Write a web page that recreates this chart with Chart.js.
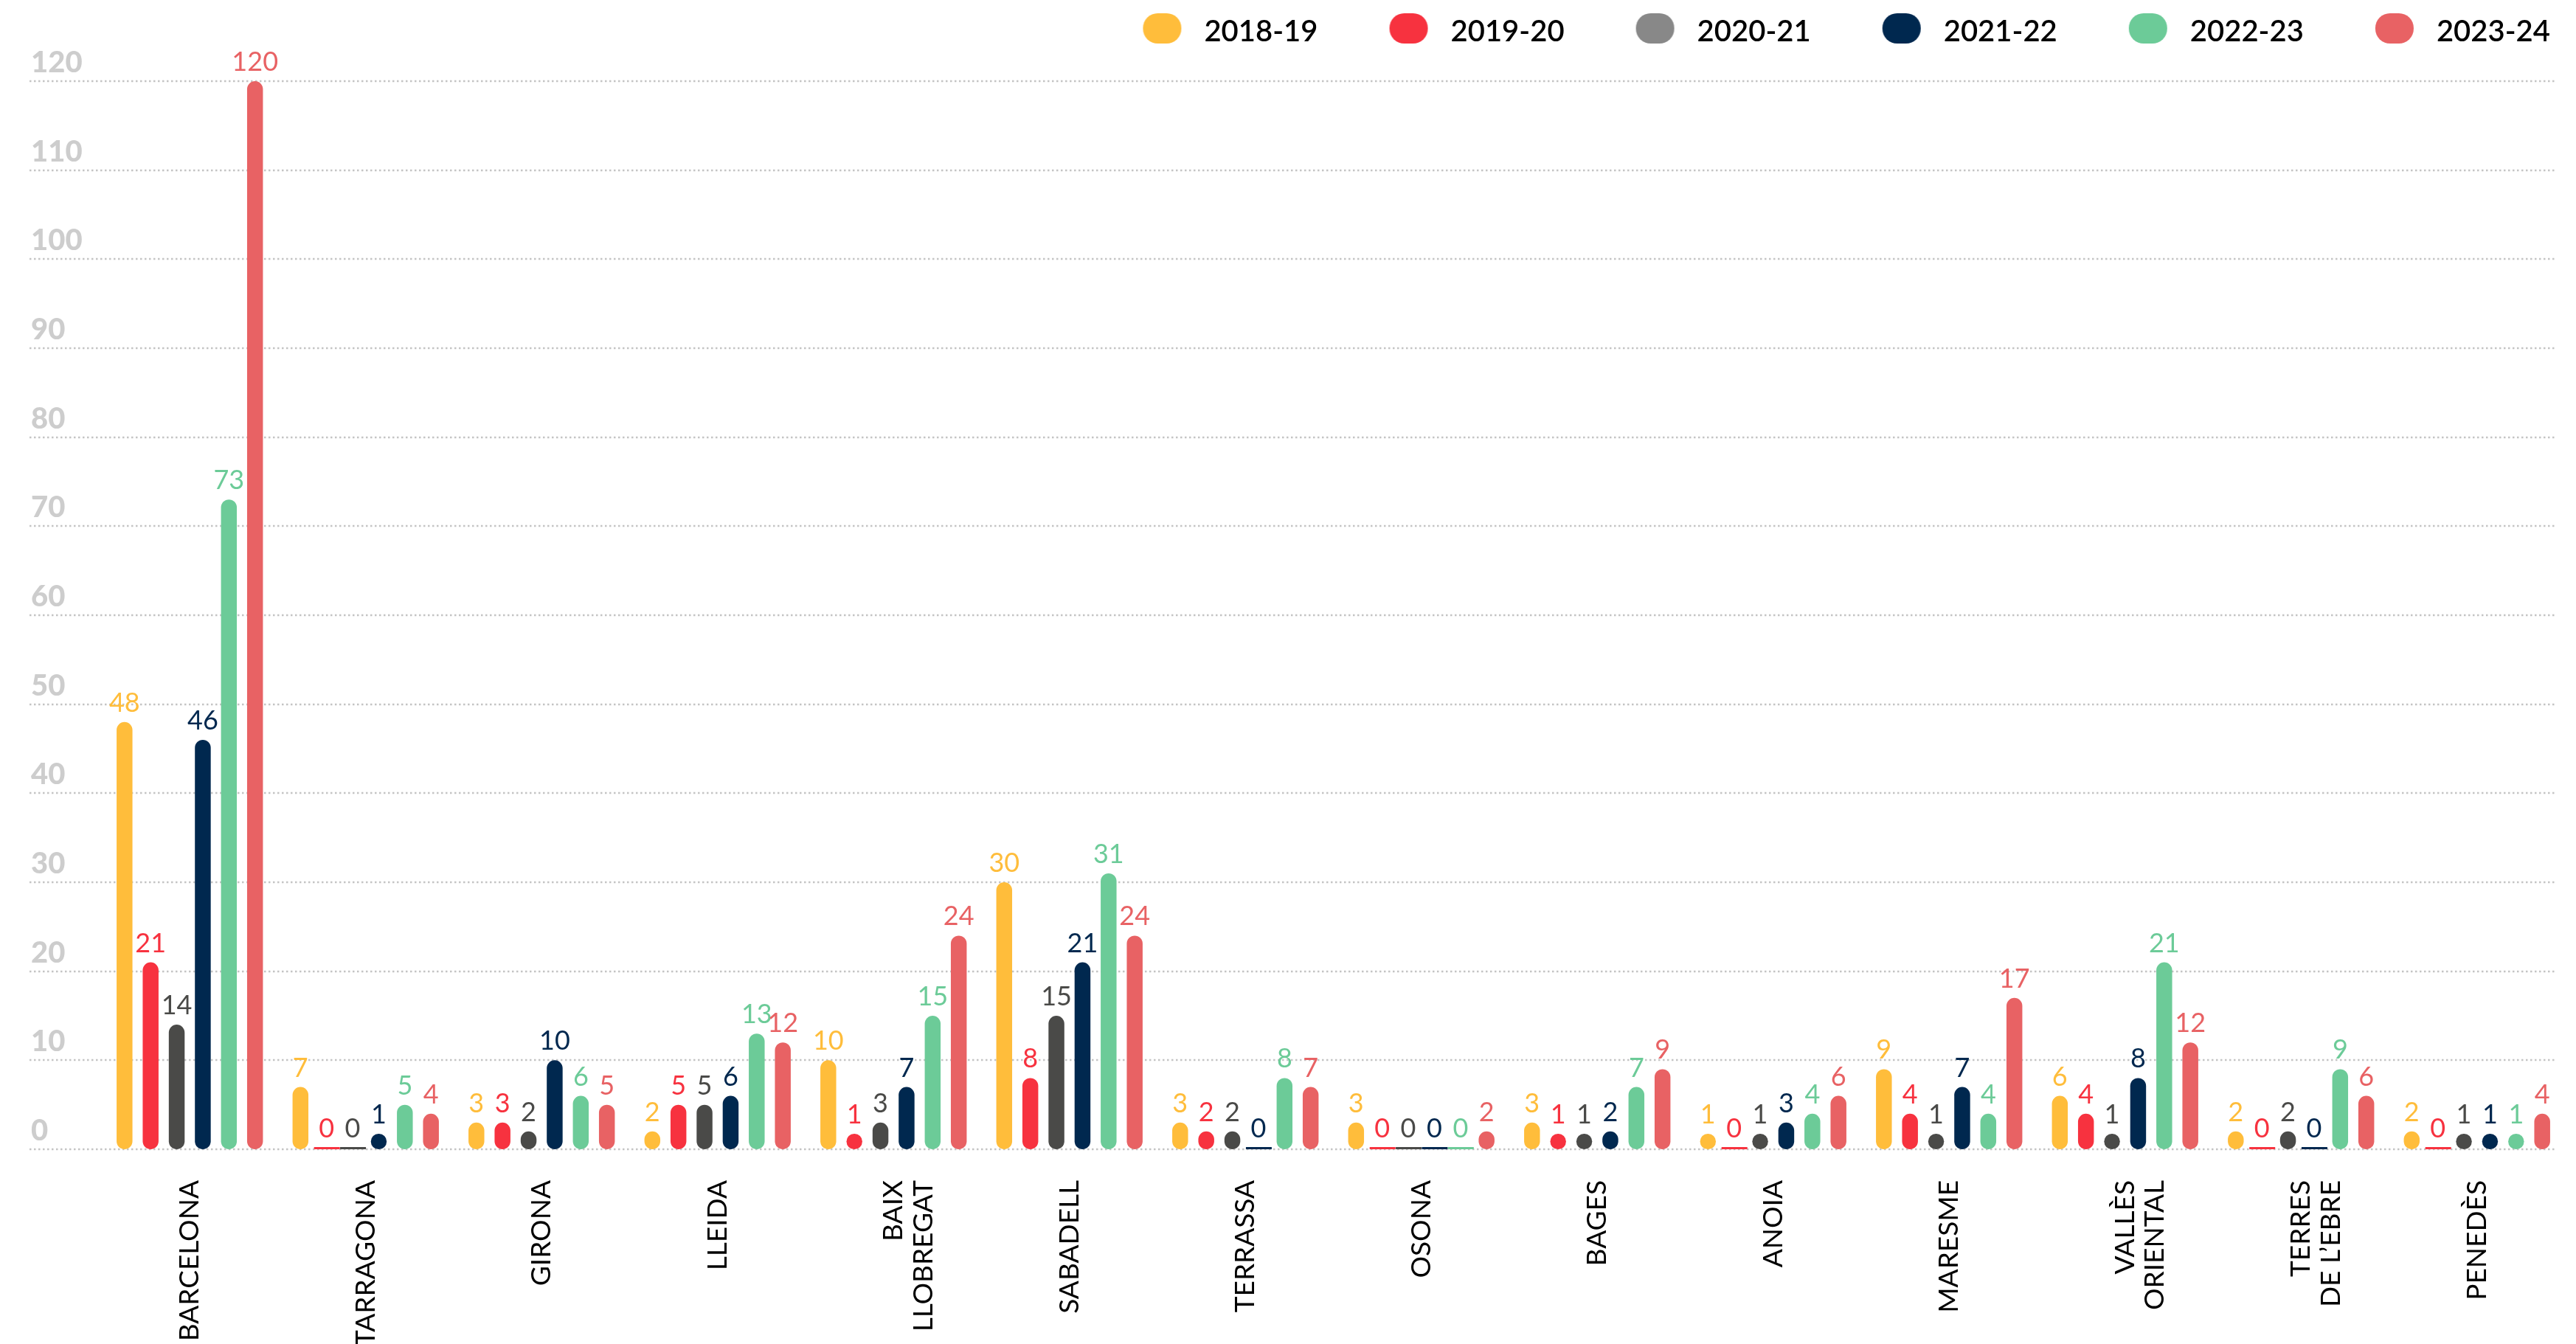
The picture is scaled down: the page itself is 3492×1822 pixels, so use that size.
<!doctype html>
<html>
<head>
<meta charset="utf-8">
<script src="https://cdn.jsdelivr.net/npm/chart.js@4.4.0/dist/chart.umd.min.js"></script>
<style>
  html, body { margin: 0; padding: 0; background: #fff; }
  #wrap { width: 3492px; height: 1822px; }
</style>
</head>
<body>
<div id="wrap"><canvas id="c1"></canvas></div>
<script>
  let regions = ['BARCELONA', 'TARRAGONA', 'GIRONA', 'LLEIDA', ['BAIX', 'LLOBREGAT'], 'SABADELL', 'TERRASSA',
                 'OSONA', 'BAGES', 'ANOIA', 'MARESME', ['VALLÈS', 'ORIENTAL'], ['TERRES', 'DE L’EBRE'], 'PENEDÈS'];
  let seasons = ['2018-19', '2019-20', '2020-21', '2021-22', '2022-23', '2023-24'];

  let v1819 = [48, 7, 3, 2, 10, 30, 3, 3, 3, 1, 9, 6, 2, 2];
  let v1920 = [21, 0, 3, 5, 1, 8, 2, 0, 1, 0, 4, 4, 0, 0];
  let v2021 = [14, 0, 2, 5, 3, 15, 2, 0, 1, 1, 1, 1, 2, 1];
  let v2122 = [46, 1, 10, 6, 7, 21, 0, 0, 2, 3, 7, 8, 0, 1];
  let v2223 = [73, 5, 6, 13, 15, 31, 8, 0, 7, 4, 4, 21, 9, 1];
  let v2324 = [120, 4, 5, 12, 24, 24, 7, 2, 9, 6, 17, 12, 6, 4];

  let yTicks = [0, 10, 20, 30, 40, 50, 60, 70, 80, 90, 100, 110, 120];

  let barColors = ['#FFBD3B', '#F7323F', '#4A4A48', '#00284F', '#6CCB98', '#E86264'];
  let legendColors = ['#FFBD3B', '#F7323F', '#888888', '#00284F', '#6CCB98', '#E86264'];

  // pill marker for the legend, drawn on the right side and a bit high in its box
  function makeMarker(color) {
    let c = document.createElement('canvas');
    c.width = 150; c.height = 52;
    let g = c.getContext('2d');
    g.fillStyle = color;
    g.beginPath();
    g.roundRect(87, 1, 52, 41, 20);
    g.fill();
    return c;
  }

  // dotted grid + y labels sitting above each line
  let backLines = {
    id: 'backLines',
    beforeDatasetsDraw(chart) {
      let ctx = chart.ctx, y = chart.scales.y;
      ctx.save();
      ctx.strokeStyle = '#c4c4c4';
      ctx.lineWidth = 2.5;
      ctx.setLineDash([2.5, 3.5]);
      ctx.fillStyle = '#cdcdcd';
      ctx.font = '900 40px Lato';
      ctx.textAlign = 'left';
      ctx.textBaseline = 'alphabetic';
      yTicks.forEach(t => {
        let py = Math.round(y.getPixelForValue(t));
        ctx.beginPath();
        ctx.moveTo(40, py);
        ctx.lineTo(3463, py);
        ctx.stroke();
        ctx.fillText(String(t), 42, py - 12);
      });
      ctx.restore();
    }
  };

  // numbers over bars, and a flat line for zero values
  let valueLabels = {
    id: 'valueLabels',
    afterDatasetsDraw(chart) {
      let ctx = chart.ctx, y = chart.scales.y;
      let base = y.getPixelForValue(0);
      ctx.save();
      ctx.font = '36px Lato';
      ctx.textAlign = 'center';
      ctx.textBaseline = 'alphabetic';
      chart.data.datasets.forEach((ds, i) => {
        let meta = chart.getDatasetMeta(i);
        ctx.fillStyle = barColors[i];
        meta.data.forEach((bar, j) => {
          let v = ds.data[j];
          if (v === 0) {
            ctx.fillRect(bar.x - 17, base - 3, 35, 3);
            ctx.fillText('0', bar.x, base - 16);
          } else {
            ctx.fillText(String(v), bar.x, bar.y - 14);
          }
        });
      });
      ctx.restore();
    }
  };

  let legendRoom = {
    id: 'legendRoom',
    beforeInit(chart) {
      let fit = chart.legend.fit;
      chart.legend.fit = function () { fit.call(this); this.height = 97; };
    },
    afterLayout(chart) {
      chart.legend.right -= 10;
      chart.legend.left -= 10;
    }
  };

  let allValues = [v1819, v1920, v2021, v2122, v2223, v2324];
  let datasets = seasons.map((s, i) => ({
    label: s,
    data: allValues[i],
    backgroundColor: c => (c.raw === 0 ? 'rgba(0,0,0,0)' : barColors[i]),
    borderRadius: 20,
    borderSkipped: false,
    minBarLength: 21,
    barPercentage: 0.607,
    categoryPercentage: 0.89
  }));

  let chart1 = new Chart(document.getElementById('c1'), {
    type: 'bar',
    data: { labels: regions, datasets: datasets },
    options: {
      responsive: true,
      maintainAspectRatio: false,
      devicePixelRatio: 1,
      animation: false,
      layout: { padding: { top: 13, left: 138, right: 15, bottom: 0 } },
      plugins: {
        tooltip: { enabled: false },
        legend: {
          position: 'top',
          align: 'end',
          labels: {
            usePointStyle: true,
            pointStyleWidth: 150,
            padding: 10,
            color: '#000',
            font: { family: 'Lato', size: 40, weight: '600' },
            generateLabels(chart) {
              return chart.data.datasets.map((ds, i) => ({
                text: ds.label,
                fillStyle: legendColors[i],
                strokeStyle: legendColors[i],
                lineWidth: 0,
                pointStyle: makeMarker(legendColors[i]),
                hidden: false,
                datasetIndex: i
              }));
            }
          }
        }
      },
      scales: {
        x: {
          grid: { display: false, drawTicks: false },
          border: { display: false },
          ticks: {
            autoSkip: false,
            minRotation: 90,
            maxRotation: 90,
            padding: 42,
            color: '#000',
            font: { family: 'Lato', size: 37, lineHeight: 1.1 }
          },
          afterFit(s) { s.height = 264; }
        },
        y: { display: false, min: 0, max: 120 }
      }
    },
    plugins: [backLines, valueLabels, legendRoom]
  });
</script>
</body>
</html>
